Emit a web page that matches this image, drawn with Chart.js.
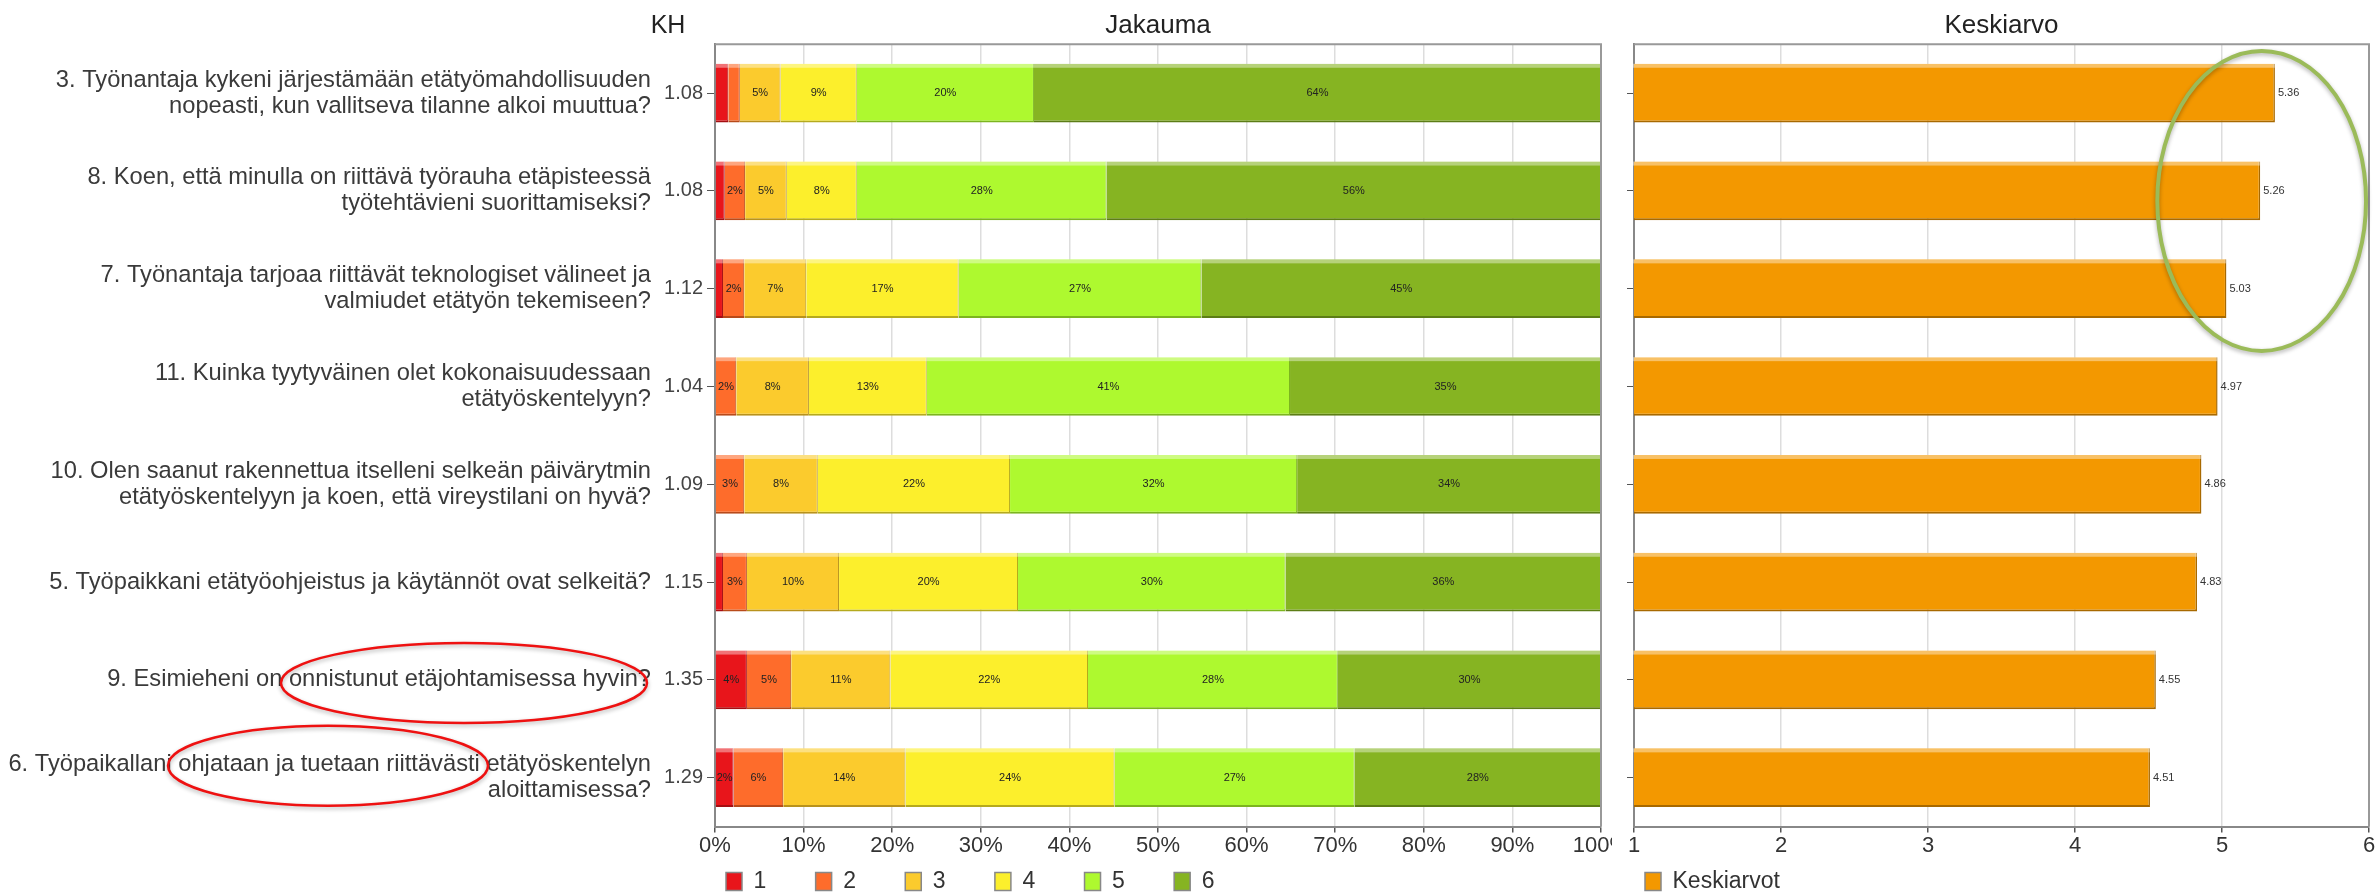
<!DOCTYPE html>
<html>
<head>
<meta charset="utf-8">
<script src="https://cdn.jsdelivr.net/npm/chart.js@4.4.0/dist/chart.umd.min.js"></script>
<style>
  body { margin: 0; background: #fff; }
  #wrap { position: relative; width: 2376px; height: 895px; overflow: hidden; background: #fff; }
  #jakauma { position: absolute; left: 0; top: 0; }
  #keskiarvo { position: absolute; left: 1612px; top: 0; background: #fff; }
</style>
</head>
<body>
<div id="wrap">
  <canvas id="jakauma" width="1640" height="895"></canvas>
  <canvas id="keskiarvo" width="764" height="895"></canvas>
</div>
<script>
// Survey data: questions, KH (std dev), answer shares 1..6 in %, means

var questions = [
  ['3. Työnantaja kykeni järjestämään etätyömahdollisuuden', 'nopeasti, kun vallitseva tilanne alkoi muuttua?'],
  ['8. Koen, että minulla on riittävä työrauha etäpisteessä', 'työtehtävieni suorittamiseksi?'],
  ['7. Työnantaja tarjoaa riittävät teknologiset välineet ja', 'valmiudet etätyön tekemiseen?'],
  ['11. Kuinka tyytyväinen olet kokonaisuudessaan', 'etätyöskentelyyn?'],
  ['10. Olen saanut rakennettua itselleni selkeän päivärytmin', 'etätyöskentelyyn ja koen, että vireystilani on hyvä?'],
  '5. Työpaikkani etätyöohjeistus ja käytännöt ovat selkeitä?',
  '9. Esimieheni on onnistunut etäjohtamisessa hyvin?',
  ['6. Työpaikallani ohjataan ja tuetaan riittävästi etätyöskentelyn', 'aloittamisessa?']
];
var khValues = ['1.08', '1.08', '1.12', '1.04', '1.09', '1.15', '1.35', '1.29'];

var share1 = [1.5, 1.1, 0.9, 0, 0, 0.9, 3.6, 2.1];
var share2 = [1.3, 2.3, 2.4, 2.4, 3.3, 2.7, 5.0, 5.6];
var share3 = [4.6, 4.7, 7.0, 8.2, 8.3, 10.4, 11.2, 13.8];
var share4 = [8.6, 7.9, 17.2, 13.3, 21.7, 20.2, 22.3, 23.6];
var share5 = [20.0, 28.2, 27.4, 41.0, 32.4, 30.2, 28.2, 27.1];
var share6 = [64.0, 55.8, 45.1, 35.1, 34.3, 35.6, 29.7, 27.8];
var answerNames = ['1', '2', '3', '4', '5', '6'];

var means = [5.36, 5.26, 5.03, 4.97, 4.86, 4.83, 4.55, 4.51];
var meanName = 'Keskiarvot';

// styles
var fillColors = ['#E8151B', '#FE6C2B', '#FBCB2D', '#FCEF2C', '#AEF92F', '#86B422'];
var edgeColors = ['#a50e12', '#b84a1a', '#b8921c', '#b5aa1d', '#7cb51f', '#5c7d16'];
var meanColor = '#F39800';
var meanEdge = '#a86900';

Chart.defaults.font.family = '"Liberation Sans", Arial, sans-serif';
Chart.defaults.color = '#333';

// gray frame on top and right side of the plot
var chartFrame = {
  id: 'chartFrame',
  afterDatasetsDraw: function(chart) {
    var a = chart.chartArea, ctx = chart.ctx;
    ctx.save();
    ctx.strokeStyle = '#999';
    ctx.lineWidth = 2;
    ctx.beginPath();
    ctx.moveTo(a.left, a.top);
    ctx.lineTo(a.right, a.top);
    ctx.lineTo(a.right, a.bottom);
    ctx.stroke();
    ctx.restore();
  }
};

// light strip on top of each bar
var barShine = {
  id: 'barShine',
  afterDatasetsDraw: function(chart) {
    var ctx = chart.ctx;
    ctx.save();
    ctx.fillStyle = 'rgba(255,255,255,0.4)';
    chart.data.datasets.forEach(function(ds, i) {
      chart.getDatasetMeta(i).data.forEach(function(bar) {
        var w = bar.x - bar.base;
        if (w > 0) ctx.fillRect(bar.base, bar.y - bar.height / 2, w, 4);
      });
    });
    ctx.restore();
  }
};

var segmentLabels = {
  id: 'segmentLabels',
  afterDatasetsDraw: function(chart) {
    var ctx = chart.ctx;
    ctx.save();
    ctx.font = '11px "Liberation Sans", Arial, sans-serif';
    ctx.fillStyle = '#222';
    ctx.textAlign = 'center';
    ctx.textBaseline = 'middle';
    chart.data.datasets.forEach(function(ds, i) {
      chart.getDatasetMeta(i).data.forEach(function(bar, j) {
        var v = ds.data[j];
        if (v >= 2) ctx.fillText(Math.round(v) + '%', (bar.x + bar.base) / 2, bar.y);
      });
    });
    ctx.restore();
  }
};

var meanLabels = {
  id: 'meanLabels',
  afterDatasetsDraw: function(chart) {
    var ctx = chart.ctx;
    ctx.save();
    ctx.font = '11px "Liberation Sans", Arial, sans-serif';
    ctx.fillStyle = '#333';
    ctx.textAlign = 'left';
    ctx.textBaseline = 'middle';
    chart.getDatasetMeta(0).data.forEach(function(bar, j) {
      ctx.fillText(means[j].toFixed(2), bar.x + 3, bar.y);
    });
    ctx.restore();
  }
};

var khTitle = {
  id: 'khTitle',
  afterDraw: function(chart) {
    var s = chart.scales.y, ctx = chart.ctx;
    ctx.save();
    ctx.font = '25px "Liberation Sans", Arial, sans-serif';
    ctx.fillStyle = '#222';
    ctx.textAlign = 'center';
    ctx.textBaseline = 'middle';
    ctx.fillText('KH', s.left + 5, chart.chartArea.top - 18);
    ctx.restore();
  }
};

// hand drawn marks on the picture
var redNotes = [
  { row: 6, dx: -199, dy: 3, rx: 183, ry: 40 },
  { row: 7, dx: -335, dy: -12, rx: 160, ry: 40 }
];
var greenNote = { row: 1, dy: 10, value: 5.27, rxValue: 0.71, ry: 150 };

function ellipse(ctx, x, y, rx, ry, color, width) {
  ctx.save();
  ctx.strokeStyle = color;
  ctx.lineWidth = width;
  ctx.shadowColor = 'rgba(0,0,0,0.3)';
  ctx.shadowBlur = 4;
  ctx.shadowOffsetY = 2;
  ctx.beginPath();
  ctx.ellipse(x, y, rx, ry, 0, 0, Math.PI * 2);
  ctx.stroke();
  ctx.restore();
}

var redCircles = {
  id: 'redCircles',
  afterDraw: function(chart) {
    var q = chart.scales.yq, y = chart.scales.y;
    redNotes.forEach(function(n) {
      ellipse(chart.ctx, q.right + n.dx, y.getPixelForValue(n.row) + n.dy, n.rx, n.ry, '#ee1111', 2.5);
    });
  }
};

var greenCircle = {
  id: 'greenCircle',
  afterDraw: function(chart) {
    var x = chart.scales.x, y = chart.scales.y;
    var cx = x.getPixelForValue(greenNote.value);
    var rx = x.getPixelForValue(greenNote.value + greenNote.rxValue) - cx;
    ellipse(chart.ctx, cx, y.getPixelForValue(greenNote.row) + greenNote.dy, rx, greenNote.ry, '#9bbb59', 4);
  }
};

function legendItems(pad) {
  return function(chart) {
    var items = Chart.defaults.plugins.legend.labels.generateLabels(chart);
    items.forEach(function(it) {
      it.text = it.text + pad;
      it.strokeStyle = '#888';
      it.lineWidth = 1.5;
    });
    return items;
  };
}

function titleOpts(text) {
  return {
    display: true, text: text, fullSize: false, color: '#222',
    font: { size: 26, weight: 'normal' }, padding: { top: 10, bottom: 3 }
  };
}

function legendOpts(pad) {
  return {
    position: 'bottom', align: 'start', fullSize: false, maxHeight: 36,
    labels: {
      boxWidth: 16, boxHeight: 18, padding: 11, color: '#333',
      font: { size: 23 }, generateLabels: legendItems(pad)
    }
  };
}

var shares = [share1, share2, share3, share4, share5, share6];
var shareSets = shares.map(function(arr, i) {
  return {
    label: answerNames[i],
    data: arr,
    xAxisID: 'x',
    yAxisID: 'y',
    backgroundColor: fillColors[i],
    borderColor: edgeColors[i],
    borderWidth: { top: 0, right: 1, bottom: 2, left: 0 },
    borderSkipped: false,
    barPercentage: 0.6,
    categoryPercentage: 1
  };
});

new Chart(document.getElementById('jakauma'), {
  type: 'bar',
  data: { labels: khValues, datasets: shareSets },
  options: {
    indexAxis: 'y',
    responsive: false,
    animation: false,
    devicePixelRatio: 1,
    layout: { padding: { left: 0, right: 39, top: 0, bottom: 0 } },
    scales: {
      x: {
        stacked: true, min: 0, max: 100,
        ticks: { stepSize: 10, padding: 0, color: '#333', font: { size: 22 },
          callback: function(v) { return v + '%'; } },
        grid: { color: '#ddd', lineWidth: 1.5, tickColor: '#555', tickLength: 6 },
        border: { color: '#888', width: 2 }
      },
      y: {
        stacked: true, weight: 0,
        grid: { offset: false, drawOnChartArea: false, tickColor: '#555', tickLength: 8 },
        border: { color: '#888', width: 2 },
        ticks: { padding: 4, color: '#444', font: { size: 20 } },
        afterFit: function(s) { s.width = 52; }
      },
      yq: {
        type: 'category', position: 'left', weight: 1, labels: questions, offset: true,
        grid: { display: false, drawTicks: false },
        border: { display: false },
        ticks: { padding: 12, color: '#3a3a3a', font: { size: 23.7, lineHeight: 1.1 } },
        afterFit: function(s) { s.width = 663; }
      }
    },
    plugins: {
      title: titleOpts('Jakauma'),
      legend: legendOpts('      '),
      tooltip: { enabled: false }
    }
  },
  plugins: [barShine, chartFrame, segmentLabels, khTitle, redCircles]
});

new Chart(document.getElementById('keskiarvo'), {
  type: 'bar',
  data: {
    labels: khValues,
    datasets: [{
      label: meanName,
      data: means,
      backgroundColor: meanColor,
      borderColor: meanEdge,
      borderWidth: { top: 0, right: 1.5, bottom: 2, left: 0 },
      borderSkipped: false,
      barPercentage: 0.6,
      categoryPercentage: 1
    }]
  },
  options: {
    indexAxis: 'y',
    responsive: false,
    animation: false,
    devicePixelRatio: 1,
    layout: { padding: { left: 0, right: 7, top: 0, bottom: 0 } },
    scales: {
      x: {
        min: 1, max: 6,
        ticks: { stepSize: 1, padding: 0, color: '#333', font: { size: 22 } },
        grid: { color: '#ddd', lineWidth: 1.5, tickColor: '#555', tickLength: 6 },
        border: { color: '#888', width: 2 }
      },
      y: {
        grid: { offset: false, drawOnChartArea: false, tickColor: '#555', tickLength: 7 },
        border: { color: '#888', width: 2 },
        ticks: { display: false },
        afterFit: function(s) { s.width = 22; }
      }
    },
    plugins: {
      title: titleOpts('Keskiarvo'),
      legend: legendOpts(''),
      tooltip: { enabled: false }
    }
  },
  plugins: [barShine, chartFrame, meanLabels, greenCircle]
});
</script>
</body>
</html>
